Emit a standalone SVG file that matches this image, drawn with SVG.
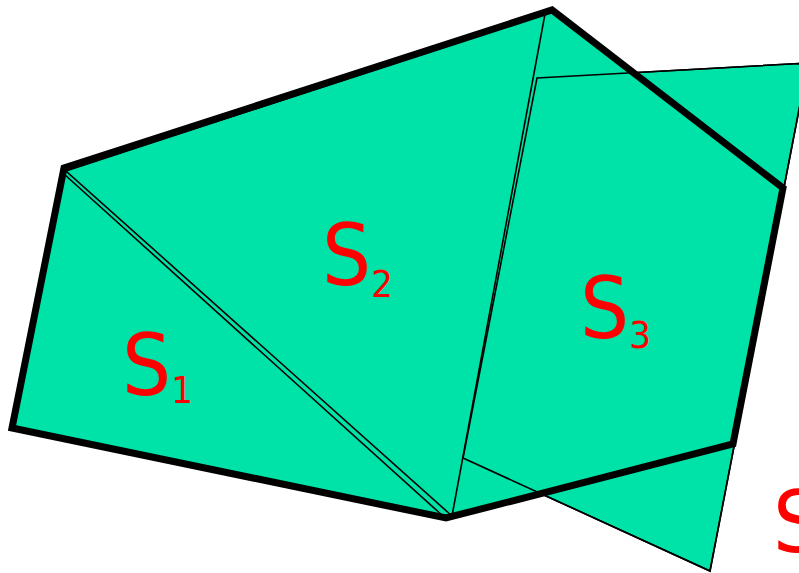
<svg xmlns="http://www.w3.org/2000/svg" width="799" height="573" viewBox="0 0 799 573">
<style>
.f{fill:#00e3a8;stroke:#000;stroke-width:1.6;stroke-linejoin:miter}
.t{fill:none;stroke:#000;stroke-width:7;stroke-linejoin:miter}
.l{font-family:"DejaVu Sans Condensed","DejaVu Sans",sans-serif;fill:#ff0000;font-size:86px}
.s{font-size:38px}
</style>
<rect width="799" height="573" fill="#fff"/>
<g id="S3"><polygon class="f" points="537,78 808,63 710,571 463,458"/></g>
<polygon fill="#00e3a8" points="12,428 64,168 552,10 783,188 733,444 446,518"/>
<g id="S1"><polygon class="f" points="64,174 444,517 14,428"/></g>
<g id="S2"><polygon class="f" points="66,171 545,14 452,516"/></g>
<g id="S3edges"><polygon fill="none" stroke="#000" stroke-width="1.6" points="537,78 808,63 710,571 463,458"/></g>
<g id="hull"><polygon class="t" points="12,428 64,168 552,10 783,188 733,444 446,518"/></g>
<g id="labels">
<text class="l" x="122" y="395">S<tspan class="s" dy="8">1</tspan></text>
<text class="l" x="322" y="285">S<tspan class="s" dy="12">2</tspan></text>
<text class="l" x="580" y="338">S<tspan class="s" dy="10">3</tspan></text>
<text class="l" x="773" y="552">S</text>
</g>
</svg>
